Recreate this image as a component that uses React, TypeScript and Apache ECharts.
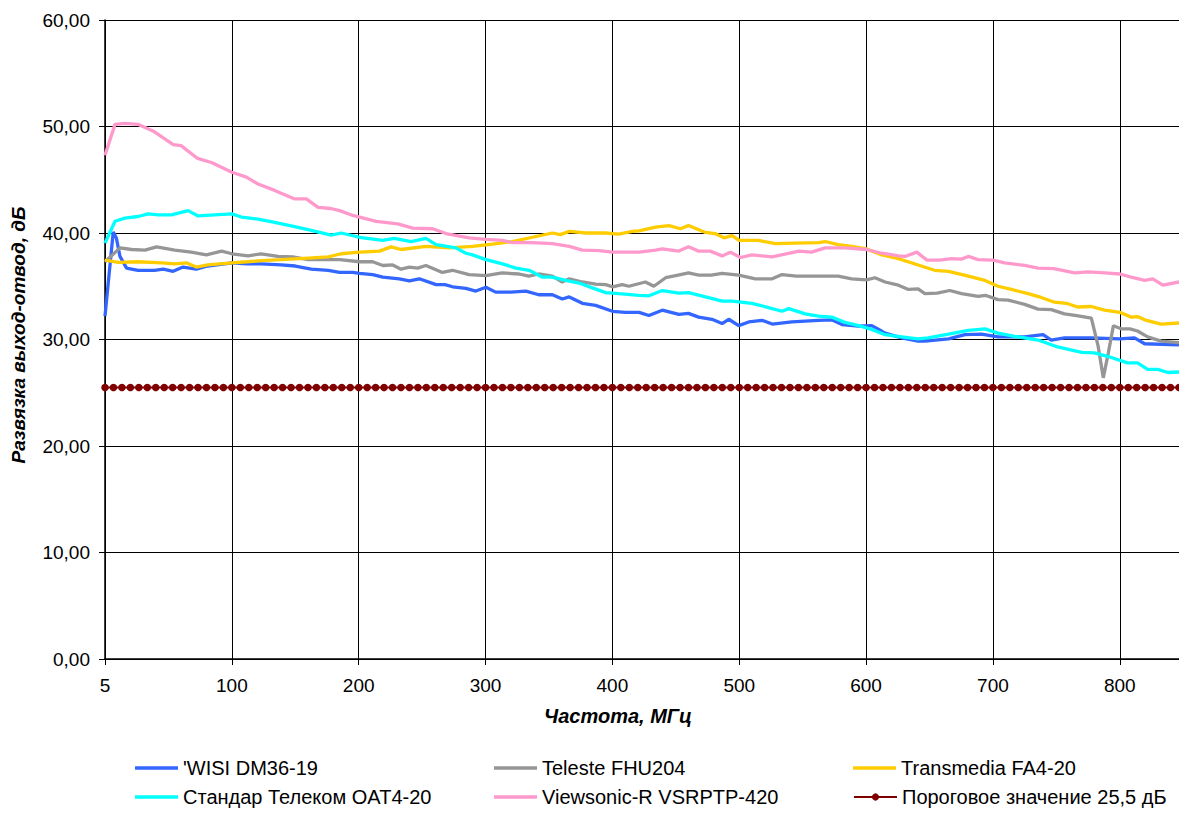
import React, { useEffect, useRef } from "react";
import * as echarts from "echarts";

// x values are positions on the frequency axis (MHz); the first point sits on the "5" label
const seriesNames = [
  "'WISI DM36-19",
  "Teleste FHU204",
  "Transmedia FA4-20",
  "Стандар Телеком OAT4-20",
  "Viewsonic-R VSRPTP-420",
  "Пороговое значение 25,5 дБ",
];
const seriesColors = ["#3366FF", "#969696", "#FFCC00", "#00FFFF", "#FF99CC", "#800000"];

const wisi: [number, number][] = [
  [0, 32.2], [6.5, 40.1], [9, 39.5], [11.8, 37.8], [17, 36.7], [26, 36.5], [39, 36.5], [46, 36.6], [53.7, 36.4],
  [61.5, 36.8], [72, 36.6], [81, 36.9], [100, 37.2], [112, 37.1], [123, 37.1], [139, 37.0], [150, 36.9], [162.6, 36.6],
  [176, 36.5], [185, 36.3], [195.4, 36.3], [200.6, 36.2], [211, 36.1], [219, 35.85], [232, 35.7], [240, 35.5],
  [247.8, 35.7], [261, 35.15], [268, 35.15], [274, 34.95], [284.5, 34.8], [292.4, 34.55], [300.3, 34.9], [308, 34.45],
  [320, 34.45], [331.8, 34.55], [342, 34.2], [352.7, 34.2], [360.5, 33.8], [366, 34.0], [376.3, 33.4], [386.8, 33.2],
  [400, 32.65], [410.4, 32.55], [421, 32.55], [428.8, 32.25], [439.3, 32.75], [452.4, 32.35], [460, 32.45], [468, 32.1],
  [478.5, 31.9], [486.5, 31.5], [491.7, 31.9], [499.6, 31.3], [507.5, 31.65], [518, 31.8], [526, 31.45], [541.5, 31.65],
  [562.5, 31.8], [573, 31.85], [581, 31.4], [594, 31.25], [604.5, 31.3], [610, 30.95], [615, 30.6], [628, 30.15],
  [641, 29.85], [646.4, 29.85], [665, 30.05], [678, 30.45], [691, 30.5], [704, 30.25], [725, 30.25], [739.5, 30.45],
  [746, 29.95], [756.4, 30.15], [777.6, 30.15], [800, 30.05], [811.6, 30.15], [819.6, 29.6], [846.7, 29.5],
];

const teleste: [number, number][] = [
  [0, 37.3], [11.8, 38.6], [21, 38.45], [31.5, 38.4], [40.7, 38.7], [55, 38.4], [68, 38.2], [80, 37.95], [92, 38.3],
  [100, 38.05], [112.8, 37.85], [123, 38.05], [136.4, 37.8], [148, 37.75], [160, 37.5], [175, 37.5], [185, 37.5],
  [200.6, 37.3], [211, 37.3], [219, 36.95], [226.8, 37.0], [233.4, 36.6], [240, 36.8], [246.5, 36.7], [253, 36.95],
  [266, 36.3], [274, 36.5], [287, 36.1], [300.3, 36.0], [313, 36.25], [326.5, 36.15], [334, 35.95], [342, 36.15],
  [352.7, 35.95], [360.5, 35.4], [366, 35.7], [376.3, 35.4], [386.8, 35.2], [394.7, 35.15], [400, 34.95], [407.8, 35.15],
  [413, 35.0], [426, 35.4], [432.7, 35.0], [442, 35.8], [450, 36.0], [460, 36.25], [468, 36.05], [478, 36.05],
  [486.5, 36.2], [499.6, 36.05], [512.7, 35.7], [526, 35.7], [533.7, 36.1], [545, 35.95], [562.5, 35.95], [578, 35.95],
  [588.7, 35.7], [600.3, 35.6], [607, 35.8], [615, 35.4], [625.5, 35.1], [633.4, 34.7], [641, 34.75], [646.4, 34.3],
  [656, 34.35], [666, 34.6], [675.3, 34.3], [688.4, 34.05], [694, 34.15], [704, 33.75], [712, 33.7], [725, 33.3],
  [735.6, 32.85], [746, 32.8], [756.4, 32.4], [766, 32.25], [777.6, 32.0], [782.9, 29.4], [787, 26.4], [791, 28.75],
  [795, 31.3], [801, 31.0], [808, 31.0], [814, 30.8], [822, 30.25], [832.6, 29.85], [846.7, 29.7],
];

const transmedia: [number, number][] = [
  [0, 37.45], [10.5, 37.25], [26, 37.3], [44.6, 37.2], [55, 37.1], [64, 37.2], [72, 36.8], [81, 37.0], [100, 37.2],
  [112, 37.3], [123, 37.4], [139, 37.5], [160, 37.65], [176, 37.75], [186.2, 38.05], [200.6, 38.2], [216.4, 38.3],
  [225.5, 38.7], [233.4, 38.45], [253, 38.75], [271.4, 38.6], [289.8, 38.75], [305.5, 38.95], [321, 39.2], [337, 39.6],
  [352.7, 40.0], [359, 39.85], [366, 40.15], [379, 40.0], [394.7, 40.0], [405, 39.9], [415.7, 40.15], [421, 40.2],
  [434, 40.55], [444.6, 40.7], [453.7, 40.4], [460, 40.7], [473.4, 40.05], [481, 39.95], [488, 39.55], [494.4, 39.75],
  [500, 39.3], [515, 39.3], [528.5, 39.0], [544, 39.05], [562.5, 39.1], [567.8, 39.2], [578, 38.9], [588.7, 38.75],
  [600.3, 38.5], [612.5, 37.95], [625.5, 37.6], [641, 37.0], [654, 36.5], [665, 36.4], [680.6, 35.95], [693.7, 35.55],
  [704, 35.0], [714.6, 34.7], [727.7, 34.3], [738, 33.95], [748.6, 33.5], [758, 33.4], [766.6, 33.05], [777.6, 33.1],
  [788, 32.75], [800, 32.55], [809, 32.1], [814, 32.15], [819.6, 31.85], [832.6, 31.45], [846.7, 31.55],
];

const standarTelecom: [number, number][] = [
  [0, 39.05], [7.9, 41.1], [15.7, 41.4], [26, 41.55], [34, 41.8], [42, 41.7], [52.4, 41.7], [65.5, 42.1], [73.4, 41.6],
  [86.5, 41.7], [100, 41.8], [107.5, 41.5], [120.6, 41.3], [133.8, 41.0], [149.5, 40.6], [162.6, 40.25], [178.4, 39.8],
  [186.2, 40.0], [200.6, 39.6], [219, 39.3], [228, 39.5], [241.3, 39.2], [253, 39.5], [261, 38.9], [276.7, 38.6],
  [284.5, 38.1], [289.8, 37.95], [300.3, 37.5], [313.4, 37.1], [324, 36.7], [334.4, 36.5], [344.9, 35.85], [352.7, 35.85],
  [363.2, 35.55], [373.7, 35.3], [384.2, 34.85], [394.7, 34.4], [405, 34.3], [421, 34.15], [428.8, 34.1], [439.3, 34.6],
  [452.4, 34.35], [460, 34.4], [473.4, 34.0], [486.5, 33.6], [494.4, 33.6], [510, 33.4], [523, 33.0], [533.7, 32.65],
  [539, 32.9], [552, 32.4], [562.5, 32.2], [573, 32.1], [583.5, 31.6], [594, 31.3], [604.5, 30.95], [615, 30.45],
  [628, 30.25], [641, 30.05], [649, 30.15], [665, 30.5], [680.6, 30.85], [693.7, 31.0], [704, 30.6], [717, 30.3],
  [735.6, 29.95], [751, 29.3], [770, 28.8], [780, 28.75], [791, 28.4], [806, 27.8], [814, 27.8], [822, 27.2], [830, 27.2],
  [838, 26.9], [846.7, 26.95],
];

const viewsonic: [number, number][] = [
  [0, 47.3], [7.9, 50.2], [15.7, 50.3], [26, 50.2], [39, 49.5], [53.8, 48.3], [60, 48.2], [73, 47.0], [84.4, 46.6],
  [100, 45.7], [111.5, 45.25], [120.6, 44.6], [133.8, 44.0], [149.5, 43.2], [158.7, 43.2], [168, 42.4], [178, 42.3],
  [185, 42.1], [195.4, 41.65], [213.8, 41.1], [230.8, 40.85], [242.6, 40.45], [258.3, 40.4], [268.8, 39.95], [287, 39.55],
  [300.2, 39.4], [313.4, 39.3], [321, 39.1], [337, 39.1], [352.7, 39.0], [366, 38.75], [376.3, 38.4], [389.5, 38.35],
  [400, 38.2], [421, 38.2], [434, 38.4], [439.3, 38.5], [452.4, 38.3], [460, 38.7], [468, 38.3], [477, 38.3],
  [486.5, 37.85], [493, 38.2], [501, 37.7], [510, 37.95], [526, 37.75], [547, 38.3], [557, 38.2], [567.8, 38.6],
  [583.5, 38.6], [600.3, 38.45], [612.5, 38.1], [625.5, 37.85], [630.7, 37.8], [640, 38.2], [648, 37.45], [658, 37.45],
  [667.4, 37.6], [675, 37.55], [680.6, 37.8], [688.4, 37.5], [700, 37.45], [709.4, 37.2], [725, 36.95], [735.6, 36.7],
  [748, 36.65], [764.5, 36.25], [775, 36.35], [788, 36.25], [800, 36.15], [809, 35.85], [819.6, 35.55], [826, 35.7],
  [834, 35.1], [846.7, 35.4],
];

// threshold: constant 25.5 dB sampled on the measurement grid (step 20/3 MHz)
const thresholdValue = 25.5;
const thresholdPointCount = 128;
const thresholdStep = 20 / 3;
const threshold: [number, number][] = Array.from({ length: thresholdPointCount }, (_, i) => [i * thresholdStep, thresholdValue]);

const yTicks = [0, 10, 20, 30, 40, 50, 60];
const xTickLabelFirst = "5";

const curves = [wisi, teleste, transmedia, standarTelecom, viewsonic];

const FONT = "'Liberation Sans', Arial, sans-serif";

export default function App() {
  const ref = useRef<HTMLDivElement>(null);
  useEffect(() => {
    if (!ref.current) return;
    const chart = echarts.init(ref.current, undefined, { renderer: "svg" });
    const legendCols = [135, 494, 853];
    const legendRows = [758, 787];
    const series: any[] = curves.map((d, i) => ({
      name: seriesNames[i],
      type: "line",
      data: d,
      symbol: "none",
      showSymbol: false,
      lineStyle: { color: seriesColors[i], width: 3.3 },
      itemStyle: { color: seriesColors[i] },
      z: 3,
    }));
    series.push({
      name: seriesNames[5],
      type: "line",
      data: threshold,
      symbol: "circle",
      symbolSize: 7.5,
      showSymbol: true,
      lineStyle: { color: seriesColors[5], width: 2 },
      itemStyle: { color: seriesColors[5] },
      z: 4,
    });
    const option: any = {
      animation: false,
      backgroundColor: "#fff",
      textStyle: { fontFamily: FONT, color: "#000" },
      grid: { left: 105, top: 20, right: -2, bottom: 155, containLabel: false },
      xAxis: {
        type: "value",
        min: 0,
        max: 846.7,
        interval: 100,
        axisLine: { show: true, lineStyle: { color: "#000", width: 1.5 } },
        axisTick: { show: true, length: 6, lineStyle: { color: "#000", width: 1 } },
        axisLabel: {
          showMaxLabel: false,
          margin: 17,
          fontSize: 19,
          fontFamily: FONT,
          color: "#000",
          formatter: (v: number) => (v === 0 ? xTickLabelFirst : String(v)),
        },
        splitLine: { show: true, lineStyle: { color: "#000", width: 1 } },
      },
      yAxis: {
        type: "value",
        min: yTicks[0],
        max: yTicks[yTicks.length - 1],
        interval: 10,
        axisLine: { show: true, lineStyle: { color: "#000", width: 1.5 } },
        axisTick: { show: true, length: 6, lineStyle: { color: "#000", width: 1 } },
        axisLabel: {
          margin: 15,
          fontSize: 19,
          fontFamily: FONT,
          color: "#000",
          formatter: (v: number) => v.toFixed(2).replace(".", ","),
        },
        splitLine: { show: true, lineStyle: { color: "#000", width: 1 } },
      },
      legend: seriesNames.map((n, i) => {
        const isThreshold = i === 5;
        return {
          data: [isThreshold ? { name: n } : { name: n, icon: "rect" }],
          left: legendCols[i % 3],
          top: legendRows[Math.floor(i / 3)],
          padding: 0,
          itemWidth: 43,
          itemHeight: isThreshold ? 9 : 3.3,
          selectedMode: false,
          textStyle: { fontSize: 20, fontFamily: FONT, color: "#000" },
        };
      }),
      graphic: [
        {
          type: "text",
          x: 618,
          y: 716,
          style: {
            text: "Частота, МГц",
            font: `italic bold 20px ${FONT}`,
            fill: "#000",
            textAlign: "center",
            textVerticalAlign: "middle",
          },
        },
        {
          type: "text",
          x: 18,
          y: 335,
          rotation: Math.PI / 2,
          style: {
            text: "Развязка выход-отвод, дБ",
            font: `italic bold 19px ${FONT}`,
            fill: "#000",
            textAlign: "center",
            textVerticalAlign: "middle",
          },
        },
      ],
      series,
    };
    chart.setOption(option);
    return () => chart.dispose();
  }, []);
  return (
    <div
      ref={ref}
      style={{ position: "fixed", left: 0, top: 0, width: 1179, height: 814, background: "#fff" }}
    />
  );
}
